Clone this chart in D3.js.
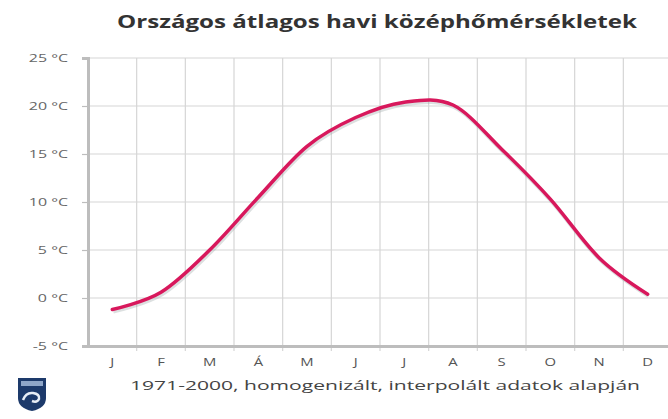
<!DOCTYPE html>
<html>
<head>
<meta charset="utf-8">
<script src="https://cdn.jsdelivr.net/npm/d3@7"></script>
<style>
  body { margin: 0; background: #fff; }
  svg { display: block; }
</style>
</head>
<body>
<svg id="chart" width="668" height="419"></svg>
<script>
// ---- DATA ----
const months = ['J', 'F', 'M', 'Á', 'M', 'J', 'J', 'A', 'S', 'O', 'N', 'D'];
const temps = [-1.2, 0.6, 5.0, 10.5, 15.8, 18.8, 20.4, 20.1, 15.5, 10.3, 4.2, 0.4];
const yTicks = [-5, 0, 5, 10, 15, 20, 25];

const titleText = 'Országos átlagos havi középhőmérsékletek';
const subText = '1971-2000, homogenizált, interpolált adatok alapján';

// ---- LAYOUT ----
const plot = { left: 88, right: 672, top: 58, bottom: 346 };
const FONT = '"Open Sans", sans-serif';
const svg = d3.select('#chart');

// the source picture is stretched sideways, so widen glyphs to match
function stretch(sel, factor) {
  sel.each(function () {
    const len = this.getComputedTextLength();
    d3.select(this)
      .attr('textLength', len * factor)
      .attr('lengthAdjust', 'spacingAndGlyphs');
  });
}

const x = d3.scaleBand()
  .domain(d3.range(months.length))
  .range([plot.left, plot.right])
  .padding(0);

const y = d3.scaleLinear()
  .domain([-5, 25])
  .range([plot.bottom, plot.top]);

const cx = i => x(i) + x.bandwidth() / 2;

// title
svg.append('text')
  .attr('x', 377).attr('y', 28)
  .attr('text-anchor', 'middle')
  .attr('font-family', FONT)
  .attr('font-weight', 'bold')
  .attr('font-size', 17)
  .attr('fill', '#333')
  .attr('textLength', 520)
  .attr('lengthAdjust', 'spacingAndGlyphs')
  .text(titleText);

// horizontal grid
svg.append('g')
  .selectAll('line')
  .data(yTicks)
  .join('line')
  .attr('x1', plot.left).attr('x2', plot.right)
  .attr('y1', d => y(d)).attr('y2', d => y(d))
  .attr('stroke', '#d6d6d6')
  .attr('stroke-width', 1.2);

// vertical grid at category boundaries
svg.append('g')
  .selectAll('line')
  .data(d3.range(1, months.length + 1))
  .join('line')
  .attr('x1', i => x(0) + i * x.bandwidth())
  .attr('x2', i => x(0) + i * x.bandwidth())
  .attr('y1', plot.top).attr('y2', plot.bottom + 5)
  .attr('stroke', '#d6d6d6')
  .attr('stroke-width', 1.2);

// y axis
const yAxis = d3.axisLeft(y)
  .tickValues(yTicks)
  .tickSize(6)
  .tickFormat(d => d + ' °C');

const gy = svg.append('g')
  .attr('transform', `translate(${plot.left},0)`)
  .call(yAxis);
gy.select('.domain').attr('stroke', '#bdbdbd').attr('stroke-width', 3);
gy.selectAll('.tick line').attr('stroke', '#bdbdbd').attr('stroke-width', 1.2);
gy.selectAll('.tick text')
  .attr('x', -20)
  .attr('font-family', FONT)
  .attr('font-size', 11)
  .attr('fill', '#666')
  .call(stretch, 1.45);

// x axis
const xAxis = d3.axisBottom(x)
  .tickSize(0)
  .tickFormat(i => months[i]);

const gx = svg.append('g')
  .attr('transform', `translate(0,${plot.bottom})`)
  .call(xAxis);
gx.select('.domain').attr('stroke', '#bdbdbd').attr('stroke-width', 3);
gx.selectAll('.tick text')
  .attr('dy', '1.5em')
  .attr('font-family', FONT)
  .attr('font-size', 11)
  .attr('fill', '#555')
  .call(stretch, 1.35);

// temperature line with a soft shadow underneath
const line = d3.line()
  .x((d, i) => cx(i))
  .y(d => y(d))
  .curve(d3.curveCardinal.tension(0));

svg.append('path')
  .datum(temps)
  .attr('d', line)
  .attr('transform', 'translate(1,2)')
  .attr('fill', 'none')
  .attr('stroke', '#9aa6a6')
  .attr('stroke-opacity', 0.35)
  .attr('stroke-width', 4);

svg.append('path')
  .datum(temps)
  .attr('d', line)
  .attr('fill', 'none')
  .attr('stroke', '#d8185c')
  .attr('stroke-width', 3.5)
  .attr('stroke-linecap', 'round');

// subtitle
svg.append('text')
  .attr('x', 385).attr('y', 390)
  .attr('text-anchor', 'middle')
  .attr('font-family', FONT)
  .attr('font-size', 13)
  .attr('fill', '#444')
  .attr('textLength', 510)
  .attr('lengthAdjust', 'spacingAndGlyphs')
  .text(subText);

// logo (shield)
const logo = svg.append('g').attr('transform', 'translate(18,378)');
logo.append('path')
  .attr('d', 'M0,0 H28 V20 Q28,30 14,33 Q0,30 0,20 Z')
  .attr('fill', '#1d3a6b');
logo.append('rect')
  .attr('x', 3).attr('y', 3).attr('width', 22).attr('height', 5)
  .attr('fill', '#8fa6c8');
logo.append('path')
  .attr('d', 'M5,22 Q8,14 15,15 Q22,16 21,21 Q19,25 14,23')
  .attr('fill', 'none')
  .attr('stroke', '#e8eef6')
  .attr('stroke-width', 2.5);
</script>
</body>
</html>
